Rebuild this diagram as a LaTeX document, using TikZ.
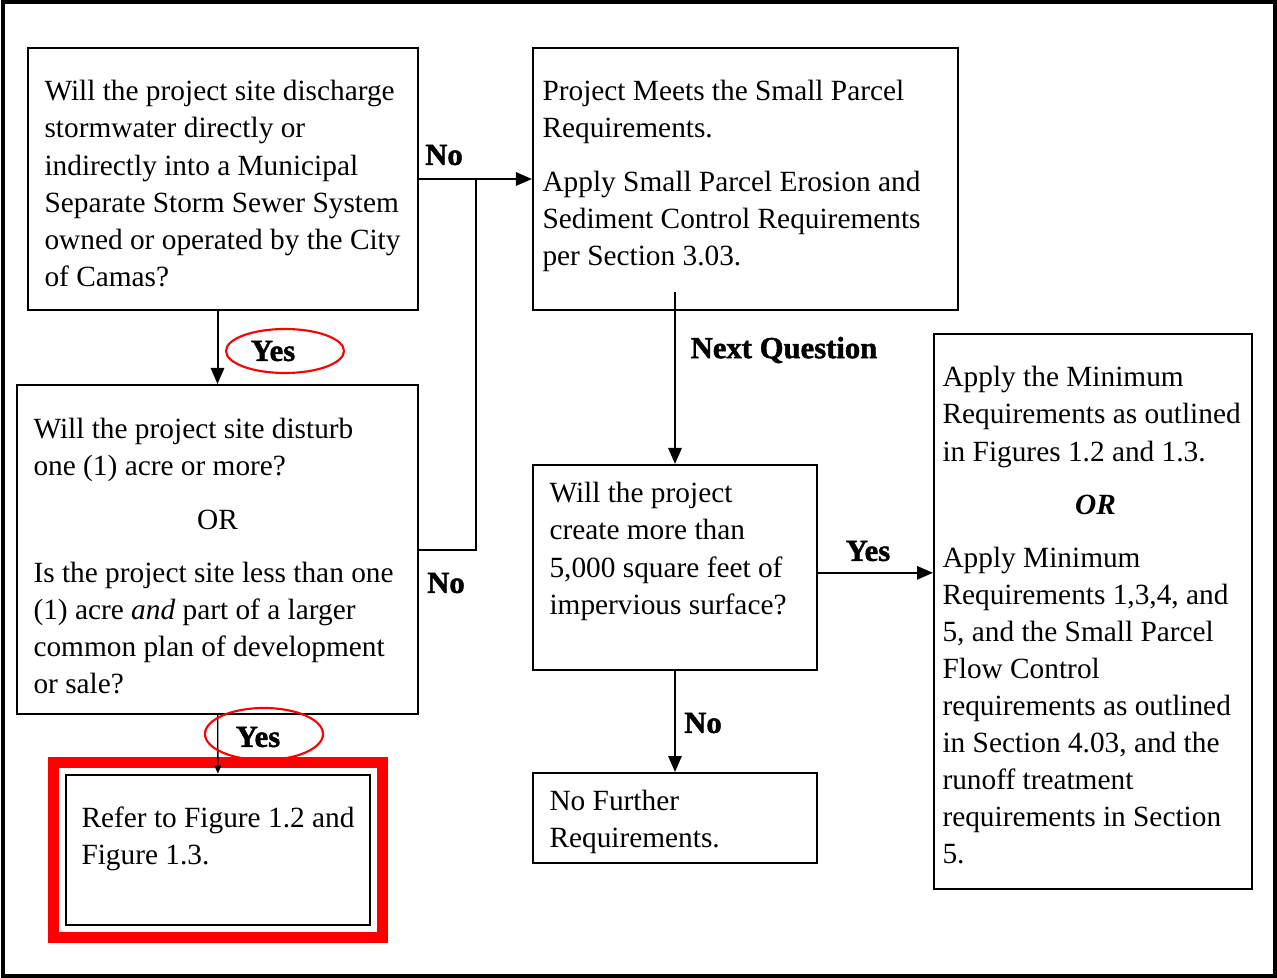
\documentclass[tikz,border=0pt]{standalone}
\usepackage{fontspec}
\setmainfont{Liberation Serif}
\newfontfamily\tagfont{Liberation Serif Bold}[FakeBold=1.5]
\usetikzlibrary{arrows.meta,shapes.geometric}
\tikzset{font=\fontsize{11}{13.9}\selectfont}

\begin{document}
\begin{tikzpicture}[x=0.375pt,y=-0.375pt,
        box/.style={draw,line width=0.75pt,inner sep=0pt},
        txt/.style={align=left,anchor=north west,inner sep=0pt},
        tag/.style={font=\tagfont\fontsize{11.5}{13}\selectfont,inner sep=0pt},
        ring/.style={ellipse,draw=red,line width=0.8pt,minimum width=44.25pt,inner sep=0pt},
        arr/.style={line width=0.75pt,-{Triangle[length=6pt,width=5pt]}}]
        \useasboundingbox (0,0) rectangle (1277,978);
        \draw[line width=1.3pt] (3,2) rectangle (1275,976);

        % boxes
        \node[box,minimum width=146.25pt,minimum height=98.25pt] (q1) at (223,179) {};
        \node[box,minimum width=159.4pt,minimum height=98.25pt] (small) at (745.5,179) {};
        \node[box,minimum width=150.4pt,minimum height=123.4pt] (q2) at (217.5,549.5) {};
        \node[box,minimum width=106.5pt,minimum height=76.9pt] (big) at (675,567.5) {};
        \node[box,minimum width=119.25pt,minimum height=208.1pt] (minreq) at (1093,611.5) {};
        \node[box,minimum width=106.5pt,minimum height=33.75pt] (none) at (675,818) {};
        \node[box,line width=1pt,minimum width=114pt,minimum height=56.25pt] (refer) at (218,850) {};
        \draw[red,line width=4.1pt] ([shift={(-4.2pt,4.2pt)}]refer.north west) rectangle ([shift={(4.2pt,-4.2pt)}]refer.south east);

        % texts
        \node[txt] (q1t) at (44,80)
            {Will the project site discharge\\stormwater directly or\\indirectly into a Municipal\\Separate Storm Sewer System\\owned or operated by the City\\of Camas?};
        \node[txt] (smallt) at (542,80)
            {Project Meets the Small Parcel\\Requirements.\\[6pt]Apply Small Parcel Erosion and\\Sediment Control Requirements\\per Section 3.03.};
        \node[txt] (q2t) at (33,418)
            {Will the project site disturb\\one (1) acre or more?\\[6pt]\makebox[138pt]{OR}\\[6pt]Is the project site less than one\\(1) acre \emph{and} part of a larger\\common plan of development\\or sale?};
        \node[txt] (bigt) at (549,482)
            {Will the project\\create more than\\5,000 square feet of\\impervious surface?};
        \node[txt] (minreqt) at (942,366)
            {Apply the Minimum\\Requirements as outlined\\in Figures 1.2 and 1.3.\\[6pt]\makebox[114.75pt]{\textbf{\textit{OR}}}\\[6pt]Apply Minimum\\Requirements 1,3,4, and\\5, and the Small Parcel\\Flow Control\\requirements as outlined\\in Section 4.03, and the\\runoff treatment\\requirements in Section\\5.};
        \node[txt] (nonet) at (549,790)
            {No Further\\Requirements.};
        \node[txt] (refert) at (81,806)
            {Refer to Figure 1.2 and\\Figure 1.3.};

        % connectors
        \coordinate (jn) at (476,179);
        \coordinate (nq) at (675,292);
        \draw[arr] (q1.south -| q2.north) -- (q2.north);
        \draw[arr] (q1) -- (small);
        \draw[line width=0.75pt] (q2.east) -| (jn);
        \draw[arr] (nq) -- (big);
        \draw[arr] ([yshift=-2pt]big.east) -- ([yshift=-2pt]big.east -| minreq.west);
        \draw[arr] (big) -- (none);
        \draw[line width=0.5pt,-{Triangle[length=3pt,width=2.5pt]}] (q2) -- (refer);

        % labels
        \node[tag] (no1) at (444,155) {No};
        \node[ring,minimum height=16.5pt] (r1) at (285,351) {};
        \node[tag] (yes1) at (273,351) {Yes};
        \node[tag] (no2) at (446,583) {No};
        \node[tag] (next) at (784,350) {Next Question};
        \node[tag] (yes2) at (868,551) {Yes};
        \node[tag] (no3) at (703,723) {No};
        \node[ring,minimum height=19.5pt] (r2) at (264,734) {};
        \node[tag] (yes3) at (258,737) {Yes};
\end{tikzpicture}
\end{document}
